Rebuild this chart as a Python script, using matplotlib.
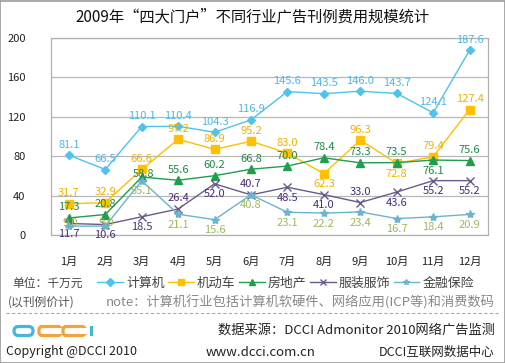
import matplotlib
matplotlib.use("Agg")
import matplotlib.pyplot as plt
from matplotlib.lines import Line2D
from matplotlib.patches import Rectangle, FancyBboxPatch

plt.rcParams['font.family'] = ['Noto Sans CJK SC', 'DejaVu Sans']

months = ["1月", "2月", "3月", "4月", "5月", "6月", "7月", "8月", "9月", "10月", "11月", "12月"]
computer = [81.1, 66.5, 110.1, 110.4, 104.3, 116.9, 145.6, 143.5, 146.0, 143.7, 124.1, 187.6]
auto = [31.7, 32.9, 66.6, 97.2, 86.9, 95.2, 83.0, 62.3, 96.3, 72.8, 79.4, 127.4]
estate = [17.3, 20.8, 58.8, 55.6, 60.2, 66.8, 70.0, 78.4, 73.3, 73.5, 76.1, 75.6]
clothing = [11.7, 10.6, 18.5, 26.4, 52.0, 40.7, 48.5, 41.0, 33.0, 43.6, 55.2, 55.2]
finance = [9.0, 9.0, 55.1, 21.1, 15.6, 40.8, 23.1, 22.2, 23.4, 16.7, 18.4, 20.9]
yticks = [0, 40, 80, 120, 160, 200]

# label placement: 1 above, -1 below, 0 on marker
pos_computer = [1] * 12
pos_auto = [1, 1, 1, 1, 1, 1, 1, -1, 1, -1, 1, 1]
pos_estate = [1, 1, 0, 1, 1, 1, 1, 1, 1, 1, -1, 1]
pos_clothing = [-1, -1, -1, 1, -1, 1, -1, -1, 1, -1, -1, -1]
pos_finance = [0, 0, -1, -1, -1, -1, -1, -1, -1, -1, -1, -1]

series = [
    ("计算机", computer, pos_computer, "#4EC3EE", "#4EB8E8", "D", 4),
    ("机动车", auto, pos_auto, "#FFC000", "#F2B200", "s", 6),
    ("房地产", estate, pos_estate, "#1E9E4E", "#1E8A46", "^", 6),
    ("服装服饰", clothing, pos_clothing, "#6A5A8C", "#4A2E78", "x", 6),
    ("金融保险", finance, pos_finance, "#6AB4CE", "#9BBB59", "*", 6),
]

W, H = 506, 363


def fx(px):
    return px / W


def fy(py):
    return 1 - py / H


fig = plt.figure(figsize=(5.06, 3.63), dpi=100)
ax = fig.add_axes([0.100, 0.3526, 0.864, 0.5427])

x = list(range(len(months)))
for name, vals, pos, color, lcolor, mk, ms in series:
    ax.plot(x, vals, color=color, lw=1.0, marker=mk, ms=ms, mew=1.0,
            mfc=color, mec=color, label=name, zorder=3)
    for xi, v, p in zip(x, vals, pos):
        if p == 1:
            ax.annotate(f"{v:.1f}", (xi, v), xytext=(0, 4), textcoords="offset points",
                        ha="center", va="bottom", fontsize=8, color=lcolor)
        elif p == -1:
            ax.annotate(f"{v:.1f}", (xi, v), xytext=(0, -4), textcoords="offset points",
                        ha="center", va="top", fontsize=8, color=lcolor)
        else:
            ax.annotate(f"{v:.1f}", (xi, v), xytext=(1, 2), textcoords="offset points",
                        ha="center", va="center", fontsize=8, color=lcolor)

ax.set_xlim(-0.5, 11.5)
ax.set_ylim(0, 200)
ax.set_yticks(yticks)
ax.set_yticklabels([str(t) for t in yticks], fontsize=8, color="#222222")
ax.set_xticks(x)
ax.set_xticklabels(months, fontsize=8, color="#222222")
ax.tick_params(axis="both", length=0)
ax.tick_params(axis="x", pad=16)
ax.tick_params(axis="y", pad=18)
ax.grid(axis="y", color="#B8B8B8", lw=0.9)
ax.set_axisbelow(True)
for s in ax.spines.values():
    s.set_color("#B0B0B0")
    s.set_linewidth(0.9)

fig.text(0.5, fy(17), "2009年“四大门户”不同行业广告刊例费用规模统计",
         ha="center", va="center", fontsize=11, color="#111111")

# legend row
fig.text(fx(12), fy(283), "单位：千万元", ha="left", va="center", fontsize=8.5, color="#444444")
handles = [Line2D([], [], color=c, lw=1.0, marker=m, ms=4, mfc=c, mec=c)
           for _, _, _, c, _, m, _ in series]
fig.legend(handles, [s[0] for s in series], loc="center left",
           bbox_to_anchor=(fx(97), fy(283)), ncol=5, frameon=False,
           fontsize=9.3, handlelength=2.0, handletextpad=0.25, columnspacing=0.25,
           borderaxespad=0, borderpad=0, labelcolor="#444444")

fig.text(fx(8), fy(302), "(以刊例价计)", ha="left", va="center", fontsize=8.5, color="#555555")
fig.text(fx(495), fy(302), "note：计算机行业包括计算机软硬件、网络应用(ICP等)和消费数码",
         ha="right", va="center", fontsize=9.5, color="#888888", style="italic")

fig.add_artist(Line2D([fx(6), fx(500)], [fy(313), fy(313)],
                      color="#AAAAAA", lw=0.8, ls=(0, (3, 2))))

# logo drawn as rounded strokes in a small pixel-scaled axes
lax = fig.add_axes([fx(10), fy(339), fx(90), 16 / H])
lax.set_xlim(0, 90)
lax.set_ylim(0, 16)
lax.axis("off")
blue, orange = "#45B5E0", "#F2A33A"
lax.add_patch(FancyBboxPatch((4, 3.5), 19, 9, boxstyle="round,pad=0,rounding_size=4.5",
                             fill=False, ec=blue, lw=2.3))
lax.add_patch(Rectangle((3, 5), 2.2, 6, fc=blue, ec="none"))
for x0 in (29, 53):
    lax.add_patch(FancyBboxPatch((x0, 3.5), 22, 9, boxstyle="round,pad=0,rounding_size=3",
                                 fill=False, ec=orange, lw=2.3))
    lax.add_patch(Rectangle((x0 + 16, 5.0), 8, 6, fc="white", ec="none"))
lax.add_patch(Rectangle((80, 2.7), 3.2, 10.6, fc=blue, ec="none"))

fig.text(fx(495), fy(330), "数据来源：DCCI Admonitor 2010网络广告监测",
         ha="right", va="center", fontsize=9.5, color="#222222")
fig.text(fx(6), fy(352), "Copyright @DCCI 2010", ha="left", va="center", fontsize=9, color="#222222")
fig.text(fx(261), fy(352), "www.dcci.com.cn", ha="center", va="center", fontsize=9.5, color="#222222")
fig.text(fx(495), fy(352), "DCCI互联网数据中心", ha="right", va="center", fontsize=9, color="#222222")

fig.add_artist(Rectangle((fx(0.5), 0.5 / H), 1 - 1.5 / W, 1 - 1.5 / H,
                         transform=fig.transFigure, fill=False, ec="#999999", lw=1.2))

fig.savefig("out.png", dpi=100)
